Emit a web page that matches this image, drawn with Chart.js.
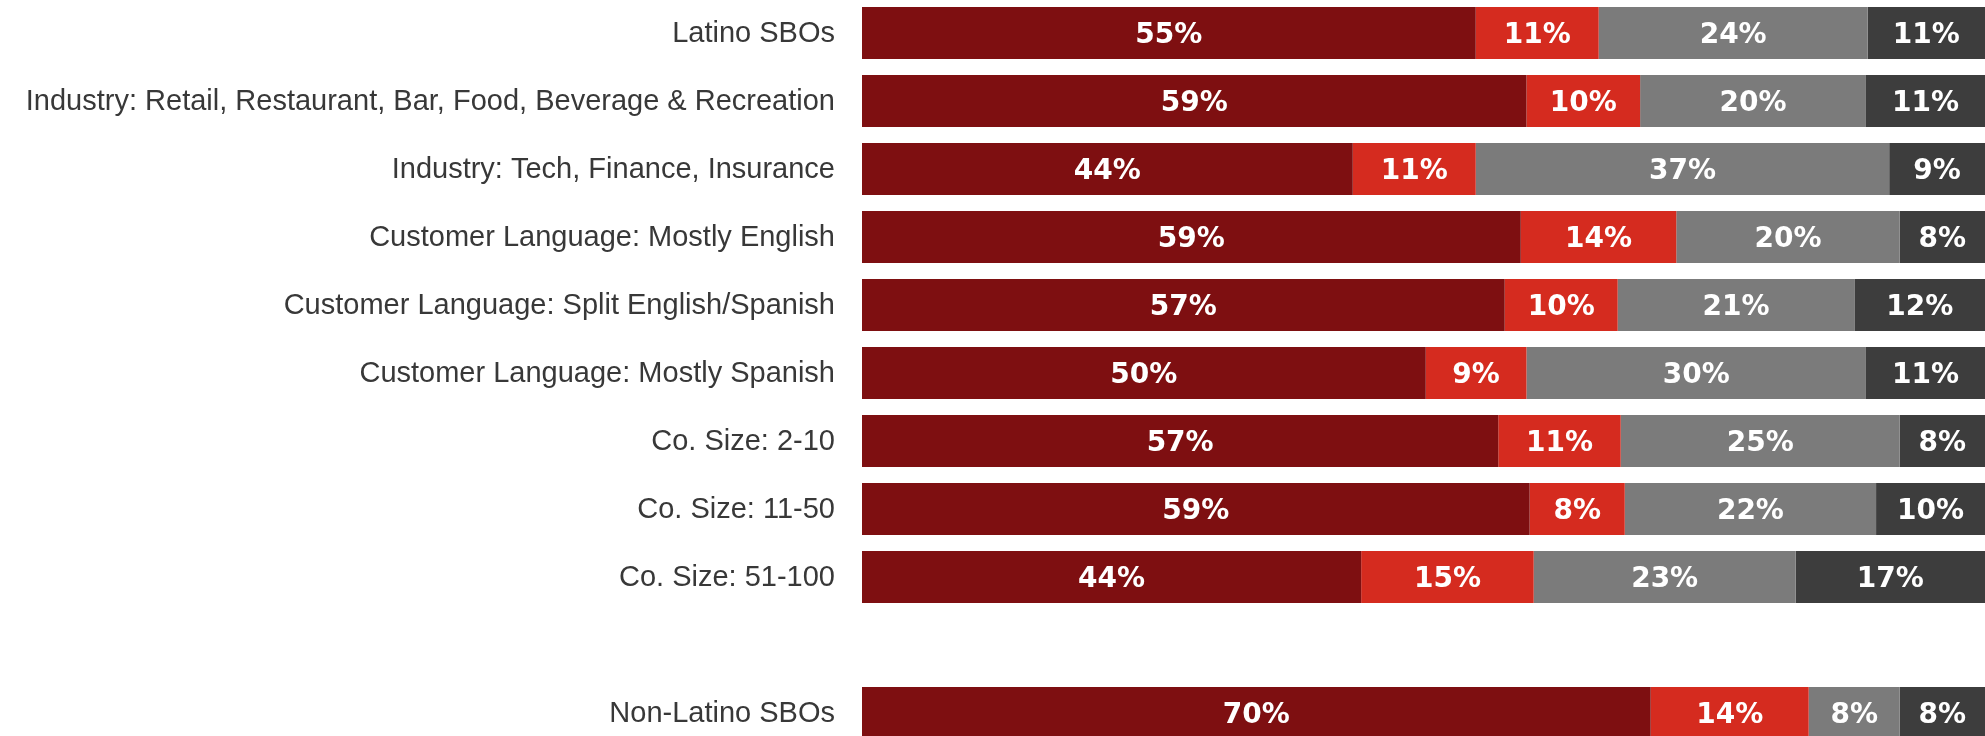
<!DOCTYPE html>
<html>
<head>
<meta charset="utf-8">
<script src="https://cdn.jsdelivr.net/npm/chart.js@4/dist/chart.umd.min.js"></script>
<style>
  html, body { margin: 0; padding: 0; background: #ffffff; overflow: hidden; }
  #wrap { position: absolute; left: 0; top: -1px; width: 1985px; height: 748px; }
</style>
</head>
<body>
<div id="wrap"><canvas id="c" width="1985" height="748"></canvas></div>
<script>
// Categories (blank entry is the spacer row in the reference)
const categories = [
  'Latino SBOs',
  'Industry: Retail, Restaurant, Bar, Food, Beverage & Recreation',
  'Industry: Tech, Finance, Insurance',
  'Customer Language: Mostly English',
  'Customer Language: Split English/Spanish',
  'Customer Language: Mostly Spanish',
  'Co. Size: 2-10',
  'Co. Size: 11-50',
  'Co. Size: 51-100',
  '',
  'Non-Latino SBOs'
];

// Segment shares (%); labels show rounded values
const seriesA = [54.65, 59.17, 43.70, 58.66, 57.23, 50.20, 56.66, 59.45, 44.45, null, 70.23];
const seriesB = [10.95, 10.12, 10.95, 13.85, 10.06, 8.97, 10.90, 8.47, 15.36, null, 14.07];
const seriesC = [23.95, 20.11, 36.82, 19.89, 21.08, 30.23, 24.84, 22.38, 23.33, null, 8.10];
const seriesD = [10.50, 10.60, 8.53, 7.60, 11.63, 10.60, 7.60, 9.70, 16.86, null, 7.60];

const colors = ['#7e0f11', '#d52b1f', '#7b7b7b', '#3d3d3d'];

const labelPlugin = {
  id: 'segLabels',
  afterDatasetsDraw(chart) {
    const ctx = chart.ctx;
    const area = chart.chartArea;
    const size = 28;
    ctx.save();
    ctx.beginPath();
    ctx.rect(area.left, area.top, area.right - area.left, area.bottom - area.top);
    ctx.clip();
    ctx.fillStyle = '#ffffff';
    ctx.font = 'bold ' + size + 'px "DejaVu Sans", Verdana, sans-serif';
    ctx.textAlign = 'center';
    ctx.textBaseline = 'alphabetic';
    chart.data.datasets.forEach((ds, di) => {
      const meta = chart.getDatasetMeta(di);
      meta.data.forEach((el, i) => {
        const v = ds.data[i];
        if (v == null) return;
        const x0 = Math.max(el.base, area.left);
        const x1 = Math.min(el.x, area.right);
        const cx = (x0 + x1) / 2;
        ctx.fillText(Math.round(v) + '%', cx, el.y + 0.729 * size / 2);
      });
    });
    ctx.restore();
  }
};

new Chart(document.getElementById('c'), {
  type: 'bar',
  data: {
    labels: categories,
    datasets: [
      { data: seriesA, backgroundColor: colors[0] },
      { data: seriesB, backgroundColor: colors[1] },
      { data: seriesC, backgroundColor: colors[2] },
      { data: seriesD, backgroundColor: colors[3] }
    ]
  },
  options: {
    indexAxis: 'y',
    responsive: false,
    animation: false,
    layout: { padding: 0 },
    datasets: {
      bar: { categoryPercentage: 1, barPercentage: 52 / 68, borderWidth: 0 }
    },
    scales: {
      x: { stacked: true, min: 0, max: 100, display: false },
      y: {
        stacked: true,
        grid: { display: false, drawTicks: false },
        border: { display: false },
        ticks: {
          padding: 27,
          labelOffset: 1,
          color: '#383838',
          font: { family: '"Liberation Sans", Arial, sans-serif', size: 29 }
        },
        afterFit(scale) {
          scale.width = 862;
          scale.paddingTop = 0;
          scale.paddingBottom = 0;
        }
      }
    },
    plugins: {
      legend: { display: false },
      tooltip: { enabled: false }
    }
  },
  plugins: [labelPlugin]
});
</script>
</body>
</html>
